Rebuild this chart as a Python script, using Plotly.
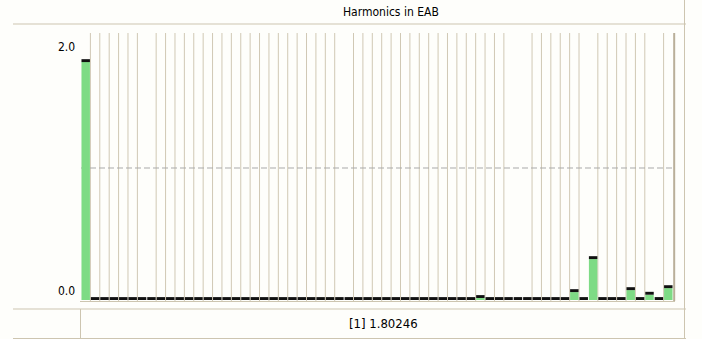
import plotly.graph_objects as go

# Harmonic orders and their magnitudes
harmonics = list(range(1, 64))
magnitudes = [0.0] * 63
magnitudes[0] = 1.80246
magnitudes[42] = 0.015
magnitudes[52] = 0.06
magnitudes[54] = 0.31
magnitudes[58] = 0.075
magnitudes[60] = 0.04
magnitudes[62] = 0.09

y_tick_labels = ["2.0", "0.0"]
y_tick_values = [2.0, 0.0]
chart_title = "Harmonics in EAB"
readout = f"[{harmonics[0]}] {magnitudes[0]}"

W, H = 702, 339
L, R, T, B = 81, 29, 33, 38
PW, PH = W - L - R, H - T - B

FONT = "DejaVu Sans Condensed, Liberation Sans, sans-serif"
BG = "#fefefb"
FRAME = "#cdc5b0"
GRID = "#d0c8b4"
GREEN = "#7edb85"
CAP = 0.022
# cell boundaries where the screen renderer drops the separator
SKIPPED_SEPARATORS = {7, 28, 46, 47, 54, 61}


def px(xp):
    return (xp - L) / PW


def py(yp):
    return (H - B - yp) / PH


fig = go.Figure()

fig.add_trace(go.Bar(
    x=harmonics, y=magnitudes, width=0.9,
    marker=dict(color=GREEN, line=dict(width=0)),
    hoverinfo="skip",
))
# peak marker sitting on each bar
fig.add_trace(go.Bar(
    x=harmonics, y=[CAP] * len(harmonics), base=magnitudes, width=0.9,
    marker=dict(color="#111111", line=dict(width=0)),
    hoverinfo="skip",
))

shapes = []
# vertical separators between harmonic cells
for k in range(1, len(harmonics)):
    if k in SKIPPED_SEPARATORS:
        continue
    shapes.append(dict(type="line", xref="x", yref="paper",
                       x0=k + 0.5, x1=k + 0.5, y0=0, y1=1,
                       line=dict(color=GRID, width=1), layer="below"))
# reference line at 1.0
shapes.append(dict(type="line", xref="paper", yref="y", x0=0, x1=1, y0=1.0, y1=1.0,
                   line=dict(color="#a9a9a9", width=1, dash="6px,3px"), layer="below"))
# plot frame: right edge and baseline
shapes.append(dict(type="line", xref="paper", yref="paper", x0=1.002, x1=1.002, y0=0, y1=1,
                   line=dict(color="#b9af99", width=2)))
shapes.append(dict(type="line", xref="paper", yref="paper", x0=px(80), x1=px(675), y0=py(301.5), y1=py(301.5),
                   line=dict(color=FRAME, width=1)))
# panel borders
for y_line in (24, 309, 338.5):
    shapes.append(dict(type="line", xref="paper", yref="paper", x0=px(13), x1=px(686),
                       y0=py(y_line), y1=py(y_line), line=dict(color=FRAME, width=1)))
shapes.append(dict(type="line", xref="paper", yref="paper", x0=px(684.5), x1=px(684.5),
                   y0=py(0), y1=py(339), line=dict(color=FRAME, width=1)))
shapes.append(dict(type="line", xref="paper", yref="paper", x0=px(80.5), x1=px(80.5),
                   y0=py(309), y1=py(338.5), line=dict(color=FRAME, width=1)))

annotations = [
    dict(text=chart_title, xref="paper", yref="paper", x=px(391), y=py(12.5),
         xanchor="center", yanchor="middle", showarrow=False,
         font=dict(family=FONT, size=12, color="#000000")),
    dict(text=y_tick_labels[0], xref="paper", yref="y", x=0, y=y_tick_values[0],
         xanchor="right", yanchor="top", xshift=-4, yshift=-2, showarrow=False,
         font=dict(family=FONT, size=12, color="#000000")),
    dict(text=y_tick_labels[1], xref="paper", yref="y", x=0, y=y_tick_values[1],
         xanchor="right", yanchor="bottom", xshift=-4, showarrow=False,
         font=dict(family=FONT, size=12, color="#000000")),
    dict(text=readout, xref="paper", yref="paper", x=px(383.5), y=py(323.5),
         xanchor="center", yanchor="middle", showarrow=False,
         font=dict(family=FONT, size=13, color="#000000")),
]

fig.update_layout(
    width=W, height=H,
    margin=dict(l=L, r=R, t=T, b=B, pad=0),
    paper_bgcolor=BG, plot_bgcolor=BG,
    barmode="overlay", showlegend=False,
    xaxis=dict(range=[0.5, 63.5], showgrid=False, zeroline=False, showticklabels=False,
               ticks="", showline=False, fixedrange=True),
    yaxis=dict(range=[-1 / 132, 268 / 132 - 1 / 132], showgrid=False, zeroline=False,
               showticklabels=False, ticks="", showline=False, fixedrange=True),
    shapes=shapes, annotations=annotations,
)

fig.write_html("out.html", config={"displayModeBar": False})
